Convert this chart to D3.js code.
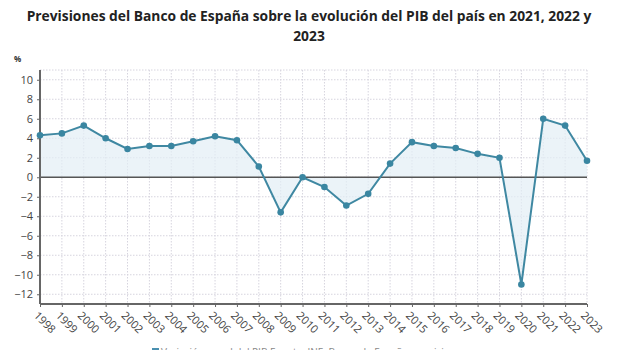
<!DOCTYPE html>
<html><head><meta charset="utf-8">
<script src="https://cdn.jsdelivr.net/npm/d3@7"></script>
<style>
html,body{margin:0;padding:0;background:#fff;overflow:hidden;}
svg{display:block;font-family:"Open Sans",sans-serif;}
</style></head>
<body><svg id="c" width="620" height="350"></svg>
<script>
const years = ["1998","1999","2000","2001","2002","2003","2004","2005","2006","2007","2008","2009","2010","2011","2012","2013","2014","2015","2016","2017","2018","2019","2020","2021","2022","2023"];
const pib = [4.3,4.5,5.3,4.0,2.9,3.2,3.2,3.7,4.2,3.8,1.1,-3.6,0.0,-1.0,-2.9,-1.7,1.4,3.6,3.2,3.0,2.4,2.0,-11.0,6.0,5.3,1.7];
const yTicks = [10,8,6,4,2,0,-2,-4,-6,-8,-10,-12];
const titleLines = ["Previsiones del Banco de España sobre la evolución del PIB del país en 2021, 2022 y","2023"];

const svg = d3.select("#c");
const L = 40, R = 587, T = 70, B = 304;
const x = d3.scalePoint().domain(years).range([L, R]);
const y = d3.scaleLinear().domain([-13, 11]).range([B, T]);

// title
svg.append("text").attr("x", 309).attr("y", 21).attr("text-anchor","middle")
  .attr("font-size", 13.8).attr("font-weight", 700).attr("fill","#222").text(titleLines[0]);
svg.append("text").attr("x", 309).attr("y", 40.5).attr("text-anchor","middle")
  .attr("font-size", 13.8).attr("font-weight", 700).attr("fill","#222").text(titleLines[1]);
svg.append("text").attr("x", 14).attr("y", 62).attr("font-size", 8).attr("font-weight",700).attr("fill","#333").text("%");

// grid
const g = svg.append("g");
g.selectAll(".vg").data(years).enter().append("line")
  .attr("x1", d=>x(d)).attr("x2", d=>x(d)).attr("y1", T).attr("y2", B)
  .attr("stroke","#d6d4de").attr("stroke-width",1).attr("stroke-dasharray","1.5,1.5");
const hvals = d3.range(-12, 12, 1);
g.selectAll(".hg").data(hvals.filter(v=>v%2===0).concat([11])).enter().append("line")
  .attr("x1", L).attr("x2", R).attr("y1", d=>y(d)).attr("y2", d=>y(d))
  .attr("stroke","#d6d4de").attr("stroke-width",1).attr("stroke-dasharray","1.5,1.5");

// area
const area = d3.area().x((d,i)=>x(years[i])).y0(y(0)).y1(d=>y(d));
svg.append("path").datum(pib).attr("d", area).attr("fill","#e3eef5").attr("opacity",0.7);

// zero line
svg.append("line").attr("x1",L).attr("x2",R).attr("y1",y(0)).attr("y2",y(0))
  .attr("stroke","#555").attr("stroke-width",1.5);

// axes
const ya = svg.append("g").attr("transform",`translate(${L},0)`)
  .call(d3.axisLeft(y).tickValues(yTicks).tickSize(3).tickPadding(4));
ya.select(".domain").attr("stroke","#666").attr("stroke-width",2).attr("d",`M0,${T}V${B}`);
ya.selectAll(".tick line").attr("stroke","#666");
ya.selectAll("text").attr("font-size",11).attr("fill","#444").attr("font-family","Open Sans, sans-serif");

const xa = svg.append("g").attr("transform",`translate(0,${B})`)
  .call(d3.axisBottom(x).tickSize(3));
xa.select(".domain").attr("stroke","#666").attr("stroke-width",2).attr("d",`M${L},0H${R}`);
xa.selectAll(".tick line").attr("stroke","#666");
xa.selectAll("text").attr("font-size",11).attr("fill","#444").attr("font-family","Open Sans, sans-serif")
  .attr("text-anchor","start").attr("dx",0).attr("dy",0)
  .attr("transform","translate(-3,8) rotate(45)");

// line
const line = d3.line().x((d,i)=>x(years[i])).y(d=>y(d));
svg.append("path").datum(pib).attr("d", line).attr("fill","none")
  .attr("stroke","#3f88a2").attr("stroke-width",2);
svg.selectAll(".pt").data(pib).enter().append("circle")
  .attr("cx",(d,i)=>x(years[i])).attr("cy",d=>y(d)).attr("r",3.3).attr("fill","#3a86a1");

// legend (partly cut off, as in the reference)
svg.append("rect").attr("x",152).attr("y",348).attr("width",7).attr("height",7).attr("fill","#4a90b0");
svg.append("text").attr("x",161).attr("y",356).attr("font-size",10).attr("fill","#888")
  .text("Variación anual del PIB     Fuente: INE, Banco de España, previsiones");
</script></body></html>
